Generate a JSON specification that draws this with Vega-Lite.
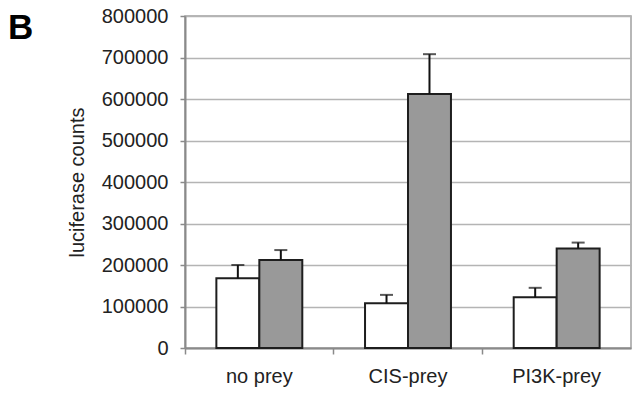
{
  "$schema": "https://vega.github.io/schema/vega-lite/v6.json",
  "width": 446,
  "height": 332,
  "autosize": {"type": "none"},
  "padding": {"left": 185, "top": 16, "right": 1, "bottom": 47},
  "background": "white",
  "title": {
    "text": "B",
    "anchor": "start",
    "frame": "group",
    "font": "Liberation Sans",
    "fontSize": 35,
    "fontWeight": "bold",
    "color": "black",
    "dx": -177,
    "offset": -40
  },
  "config": {
    "view": {"stroke": "#a0a0a0", "strokeWidth": 1.5},
    "axis": {
      "labelFont": "Liberation Sans",
      "titleFont": "Liberation Sans",
      "labelColor": "#222222",
      "titleColor": "#222222",
      "domainColor": "#8a8a8a",
      "domainWidth": 2,
      "tickColor": "#8a8a8a",
      "tickWidth": 1.5
    }
  },
  "data": {
    "values": [
      {"cat": "no prey", "grp": "a", "value": 168000, "upper": 200000},
      {"cat": "no prey", "grp": "b", "value": 212000, "upper": 236000},
      {"cat": "CIS-prey", "grp": "a", "value": 108000, "upper": 128000},
      {"cat": "CIS-prey", "grp": "b", "value": 612000, "upper": 708000},
      {"cat": "PI3K-prey", "grp": "a", "value": 122000, "upper": 145000},
      {"cat": "PI3K-prey", "grp": "b", "value": 240000, "upper": 254000}
    ]
  },
  "encoding": {
    "x": {
      "field": "cat",
      "type": "nominal",
      "sort": ["no prey", "CIS-prey", "PI3K-prey"],
      "scale": {"paddingInner": 0, "paddingOuter": 0},
      "axis": {
        "title": null,
        "labelAngle": 0,
        "labelFontSize": 20,
        "labelPadding": 12,
        "tickSize": 6,
        "bandPosition": 0,
        "grid": false
      }
    },
    "xOffset": {
      "field": "grp",
      "type": "nominal",
      "scale": {"paddingInner": 0, "paddingOuter": 0.73}
    }
  },
  "layer": [
    {
      "mark": {"type": "bar", "stroke": "#1e1e1e", "strokeWidth": 2},
      "encoding": {
        "y": {
          "field": "value",
          "type": "quantitative",
          "scale": {"domain": [0, 800000]},
          "axis": {
            "title": "luciferase counts",
            "titleFontSize": 20,
            "titleFontWeight": "normal",
            "titleX": -108,
            "titleBaseline": "middle",
            "labelFontSize": 20,
            "labelPadding": 12,
            "tickSize": 5,
            "tickCount": 8,
            "format": "d",
            "grid": true,
            "gridColor": "#b4b4b4",
            "gridWidth": 1.5
          }
        },
        "fill": {
          "field": "grp",
          "type": "nominal",
          "scale": {"domain": ["a", "b"], "range": ["#ffffff", "#999999"]},
          "legend": null
        }
      }
    },
    {
      "mark": {"type": "rule", "color": "#111111", "strokeWidth": 2},
      "encoding": {
        "y": {"field": "value", "type": "quantitative"},
        "y2": {"field": "upper"}
      }
    },
    {
      "mark": {"type": "tick", "color": "#111111", "thickness": 2, "size": 13, "orient": "horizontal"},
      "encoding": {
        "y": {"field": "upper", "type": "quantitative"}
      }
    }
  ]
}
